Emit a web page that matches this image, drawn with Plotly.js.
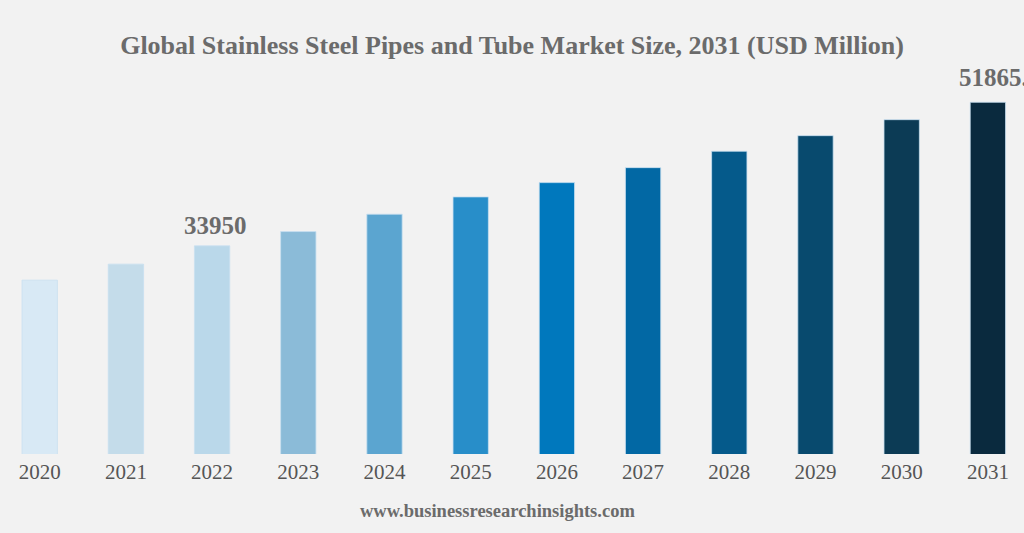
<!DOCTYPE html>
<html>
<head>
<meta charset="utf-8">
<script src="https://cdn.plot.ly/plotly-3.0.1.min.js"></script>
<style>
  html, body { margin: 0; padding: 0; background: #f2f2f2; }
  #chart { width: 1024px; height: 533px; }
</style>
</head>
<body>
<div id="chart"></div>
<script>
const years = ['2020','2021','2022','2023','2024','2025','2026','2027','2028','2029','2030','2031'];
const marketSize = [29674, 31668, 33950, 35733, 37902, 40059, 41841, 43711, 45756, 47701, 49696, 51865.3];
const barColors = ['#d8e9f5','#c4dcea','#bad8ea','#8bbbd8','#5ba5d0','#288ec9','#0078bd','#0268a4','#055a8b','#084a6e','#0c3b55','#0a2a3e'];
const labelledYears = ['2022', '2031'];
const labelTexts = ['33950', '51865.3'];

const trace = {
  type: 'bar',
  x: years,
  y: marketSize,
  marker: { color: barColors, line: { color: 'rgba(200,224,240,0.8)', width: 1 } },
  hoverinfo: 'x+y',
  width: 0.41
};

const font = 'Liberation Serif, Times New Roman, serif';

const annotations = labelledYears.map((yr, i) => ({
  x: years.indexOf(yr),
  y: marketSize[years.indexOf(yr)],
  xref: 'x', yref: 'y',
  text: '<b>' + labelTexts[i] + '</b>',
  showarrow: false,
  yanchor: 'bottom',
  xanchor: i === labelledYears.length - 1 ? 'left' : 'center',
  xshift: i === labelledYears.length - 1 ? -31 : 3,
  yshift: i === labelledYears.length - 1 ? 9 : 5,
  font: { family: font, size: 25, color: '#6b6b6b' }
}));

annotations.push({
  x: 0.486, y: -0.1438, xref: 'paper', yref: 'paper',
  text: '<b>www.businessresearchinsights.com</b>',
  showarrow: false, xanchor: 'center', yanchor: 'middle',
  font: { family: font, size: 18.5, color: '#6b6b6b' }
});

const layout = {
  width: 1024, height: 533,
  paper_bgcolor: '#f2f2f2', plot_bgcolor: '#f2f2f2',
  margin: { l: 0, r: 0, t: 60, b: 78.7 },
  title: {
    text: '<b>Global Stainless Steel Pipes and Tube Market Size, 2031 (USD Million)</b>',
    x: 0.5, xanchor: 'center', y: 1 - 45/533, yanchor: 'middle', yref: 'container',
    font: { family: font, size: 26, color: '#6b6b6b' }
  },
  xaxis: {
    type: 'category',
    range: [-0.4606, 11.419],
    showgrid: false, zeroline: false, showline: false,
    ticks: '', ticklabelstandoff: 3,
    tickfont: { family: font, size: 21, color: '#555555' }
  },
  yaxis: {
    range: [7981, 57139],
    showgrid: false, zeroline: false, showline: false, showticklabels: false, ticks: ''
  },
  annotations: annotations,
  showlegend: false
};

Plotly.newPlot('chart', [trace], layout, { displayModeBar: false, staticPlot: true });
</script>
</body>
</html>
